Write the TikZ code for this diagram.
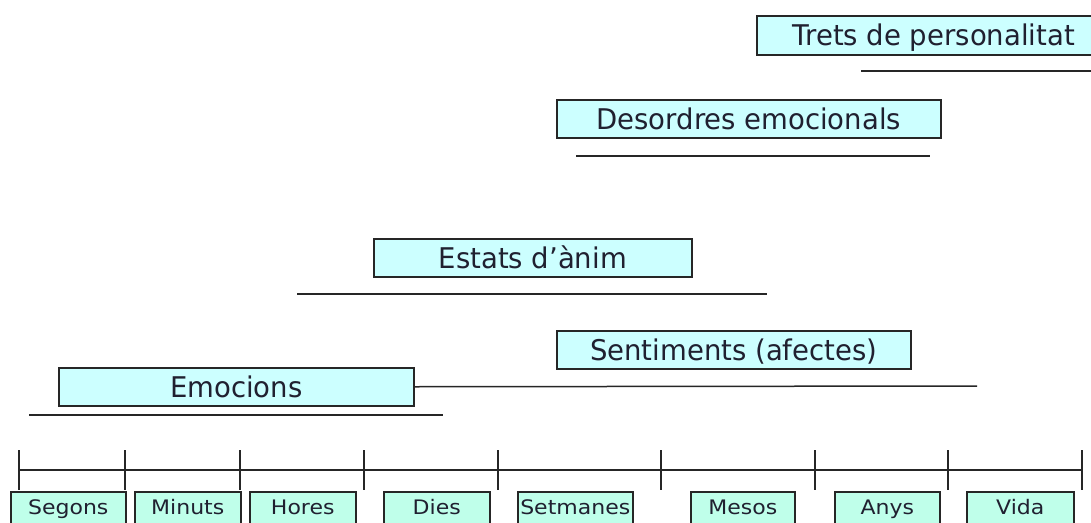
\documentclass[tikz,border=0pt]{standalone}
\usepackage{fontspec}
\newfontfamily\upfont{DejaVu Sans}[FakeStretch=0.965]
\newfontfamily\lowfont{DejaVu Sans}[FakeStretch=1.1]
\definecolor{upfill}{HTML}{CCFFFF}
\definecolor{lowfill}{HTML}{BFFFEA}
\definecolor{txt}{HTML}{202030}
\definecolor{ln}{HTML}{262626}
\tikzset{
  upbox/.style={draw=ln, line width=1.5pt, fill=upfill, inner sep=0pt, anchor=north west,
    text=txt, font=\upfont\fontsize{28.5}{30}\selectfont, text height=20.8pt, text depth=0pt},
  lowbox/.style={draw=ln, line width=1.5pt, fill=lowfill, inner sep=0pt, anchor=north west,
    text=txt, font=\lowfont\fontsize{20}{22}\selectfont, text height=14.6pt, text depth=8.4pt,
    minimum height=39pt},
  rule/.style={draw=ln, line width=1.5pt},
}
\begin{document}
\begin{tikzpicture}[x=1pt,y=-1pt]
\useasboundingbox (0,0) rectangle (1091,522);
\clip (0,0) rectangle (1091,522);

% upper boxes
\node[upbox, minimum width=354pt, minimum height=39pt] (trets) at (756,15) {Trets de personalitat};
\node[upbox, minimum width=384pt, minimum height=38pt] (deso) at (556,99) {Desordres emocionals};
\node[upbox, minimum width=318pt, minimum height=38pt] (estats) at (373,238) {Estats d’ànim};
\node[upbox, minimum width=354pt, minimum height=38pt] (sent) at (556,330) {Sentiments (afectes)};
\node[upbox, minimum width=355pt, minimum height=38pt] (emo) at (58,367) {Emocions};

% underlines
\coordinate (tretsA) at (861,71);  \coordinate (tretsB) at (1091,71);
\coordinate (desoA) at (576,156);  \coordinate (desoB) at (930,156);
\coordinate (estatsA) at (297,294); \coordinate (estatsB) at (767,294);
\coordinate (sentB) at (977,386);
\coordinate (emoA) at (29,415);    \coordinate (emoB) at (443,415);
\draw[rule] (tretsA) -- (tretsB);
\draw[rule] (desoA) -- (desoB);
\draw[rule] (estatsA) -- (estatsB);
\draw[rule] (emo.east) -- (sentB);
\draw[rule] (emoA) -- (emoB);

% time axis
\coordinate (axA) at (19,470); \coordinate (axB) at (1082,470);
\draw[rule] (axA) -- (axB);
\foreach \x in {19,125,240,364,498,661,815,948,1082}
  \draw[rule] (\x,450) -- (\x,490);

% lower boxes
\node[lowbox, minimum width=115pt] (segons) at (10,491) {Segons};
\node[lowbox, minimum width=106pt] (minuts) at (134,491) {Minuts};
\node[lowbox, minimum width=106pt] (hores) at (249,491) {Hores};
\node[lowbox, minimum width=106pt] (dies) at (383,491) {Dies};
\node[lowbox, minimum width=115pt] (setmanes) at (517,491) {Setmanes};
\node[lowbox, minimum width=104pt] (mesos) at (690,491) {Mesos};
\node[lowbox, minimum width=105pt] (anys) at (834,491) {Anys};
\node[lowbox, minimum width=107pt] (vida) at (966,491) {Vida};
\end{tikzpicture}
\end{document}
